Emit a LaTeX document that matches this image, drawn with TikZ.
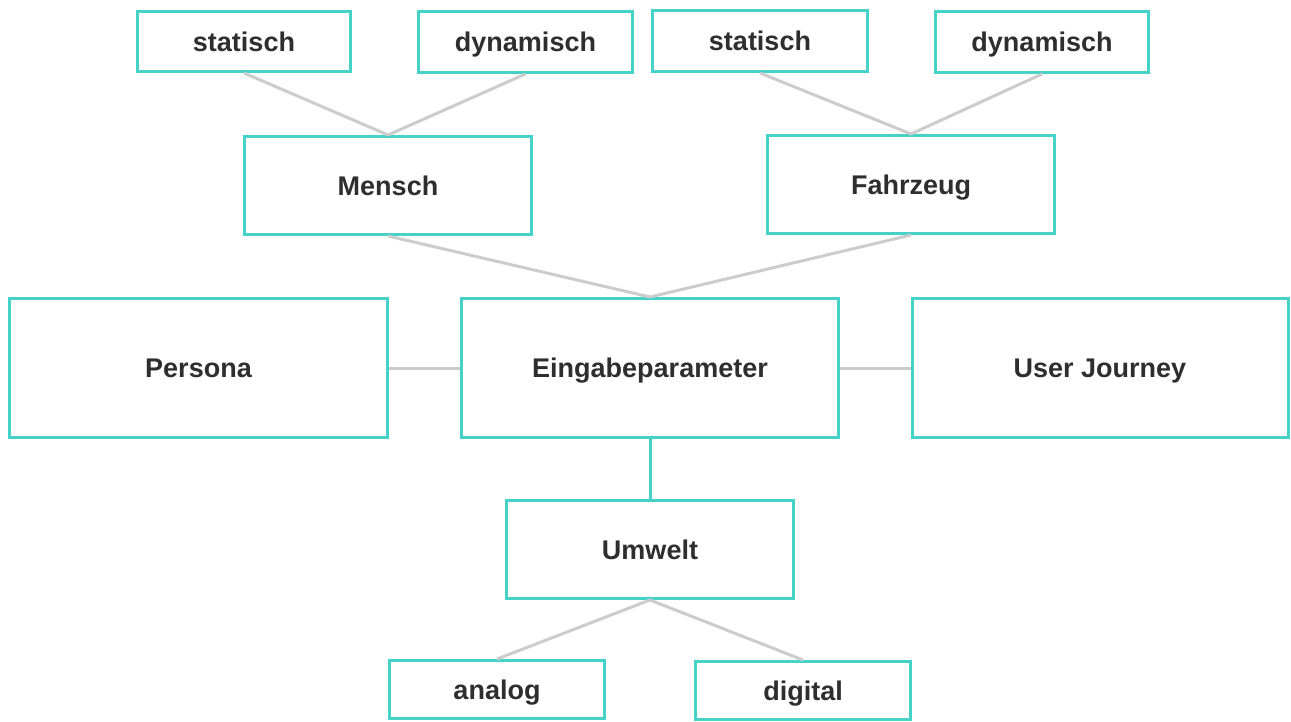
\documentclass[tikz,border=0pt]{standalone}
\usepackage{fontspec}
\setmainfont{Liberation Sans}
\definecolor{teal2}{HTML}{45D2C9}
\definecolor{graylink}{HTML}{CCCCCC}
\definecolor{txt}{HTML}{2E2E2E}
\tikzset{
  box/.style={draw=teal2, line width=3pt, fill=white, inner sep=0pt, text=txt,
    text height=19.5pt, text depth=0pt,
    font=\fontsize{27}{30}\selectfont\bfseries},
  link/.style={draw=graylink, line width=3pt},
  tlink/.style={draw=teal2, line width=3pt},
}
\begin{document}
\begin{tikzpicture}[x=1pt,y=-1pt]
\useasboundingbox (0,0) rectangle (1291,722);
% level 0
\node[box, minimum width=213pt, minimum height=60pt] (s1) at (244,41.5) {statisch};
\node[box, minimum width=214pt, minimum height=61pt] (d1) at (525.5,42) {dynamisch};
\node[box, minimum width=215pt, minimum height=61pt] (s2) at (760,41) {statisch};
\node[box, minimum width=213pt, minimum height=61pt] (d2) at (1042,42) {dynamisch};
% level 1
\node[box, minimum width=287pt, minimum height=98pt] (mensch) at (388,185.5) {Mensch};
\node[box, minimum width=287pt, minimum height=98pt] (fahr) at (911,184.5) {Fahrzeug};
% level 2
\node[box, minimum width=378pt, minimum height=139pt] (persona) at (198.5,368) {Persona};
\node[box, minimum width=377pt, minimum height=139pt] (eing) at (650,368) {Eingabeparameter};
\node[box, minimum width=376pt, minimum height=139pt] (uj) at (1100,368) {User Journey};
% level 3
\node[box, minimum width=287pt, minimum height=98pt] (umwelt) at (650,549.5) {Umwelt};
% level 4
\node[box, minimum width=215pt, minimum height=58pt] (analog) at (497,689.5) {analog};
\node[box, minimum width=215pt, minimum height=58pt] (digital) at (803,690.5) {digital};
% connectors
\draw[link] (s1.south) -- (mensch.north);
\draw[link] (d1.south) -- (mensch.north);
\draw[link] (s2.south) -- (fahr.north);
\draw[link] (d2.south) -- (fahr.north);
\draw[link] (mensch.south) -- (eing.north);
\draw[link] (fahr.south) -- (eing.north);
\draw[link] (persona.east) -- (eing.west);
\draw[link] (eing.east) -- (uj.west);
\draw[tlink] (eing.south) -- (umwelt.north);
\draw[link] (umwelt.south) -- (analog.north);
\draw[link] (umwelt.south) -- (digital.north);
\end{tikzpicture}
\end{document}
